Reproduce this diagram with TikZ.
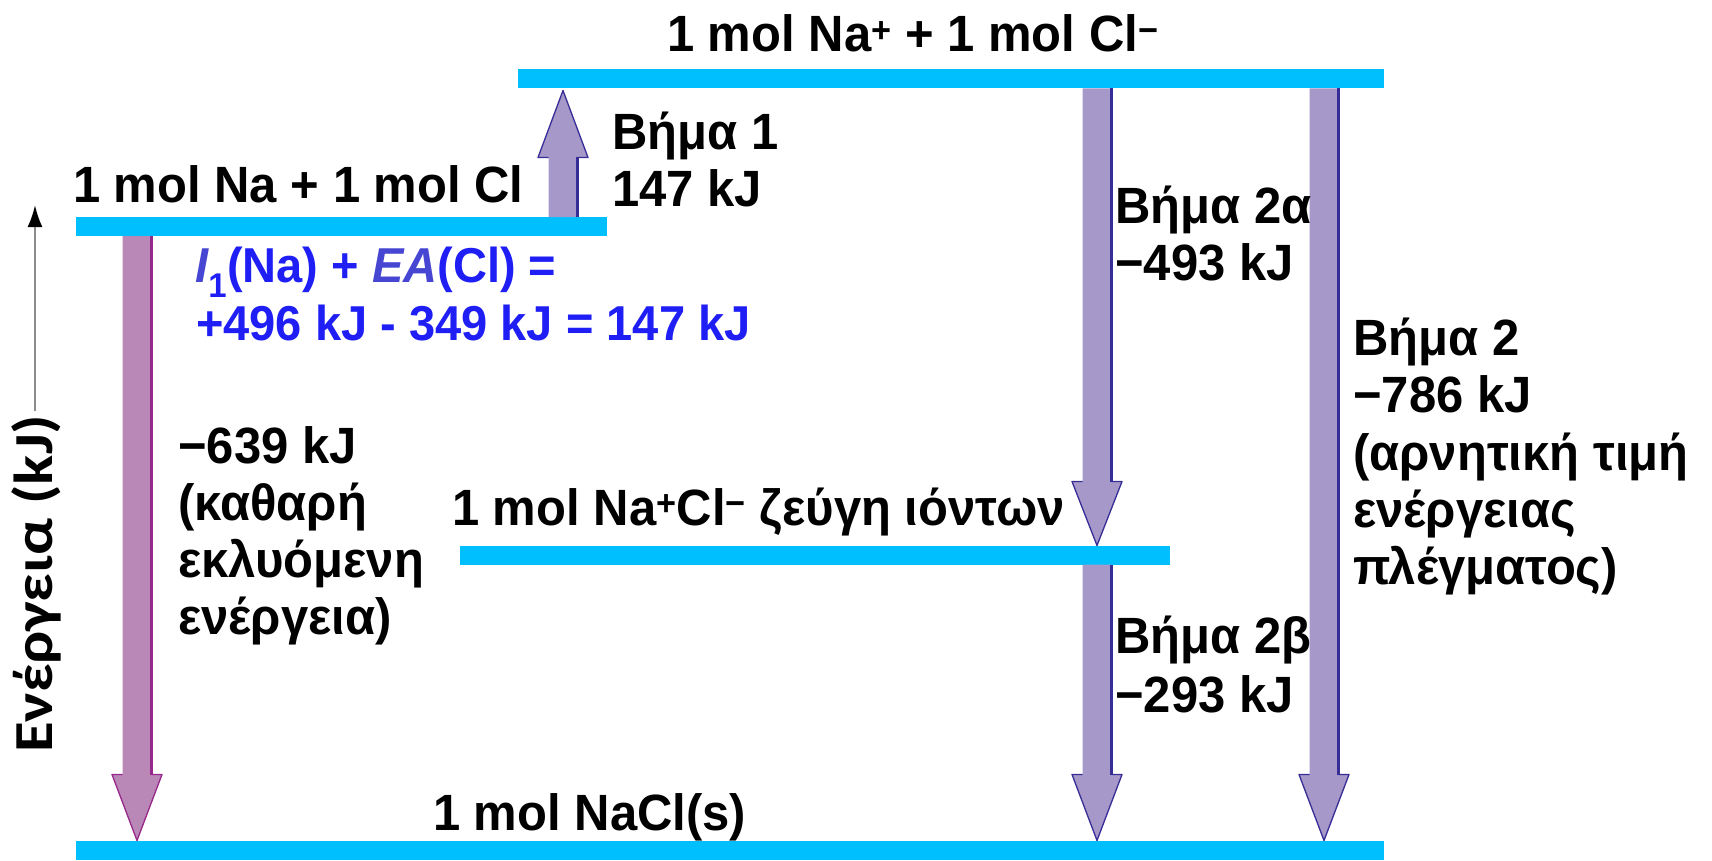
\documentclass[tikz,border=0pt]{standalone}
\usepackage{fontspec}
\setmainfont{Liberation Sans}[FakeStretch=0.96]
\newfontfamily\axisfont{Carlito}[FakeStretch=1.14]
\usetikzlibrary{arrows.meta}

\definecolor{levelblue}{RGB}{0,191,255}
\definecolor{stepfill}{RGB}{166,152,200}
\definecolor{stepedge}{RGB}{55,45,150}
\definecolor{netfill}{RGB}{186,136,182}
\definecolor{netedge}{RGB}{150,40,140}
\definecolor{calcblue}{RGB}{30,30,245}
\definecolor{calcital}{RGB}{70,70,210}
\definecolor{axisgray}{RGB}{140,140,140}

\tikzset{
  level/.style={fill=levelblue, minimum height=19pt, inner sep=0pt, outer sep=0pt},
  lab/.style={font=\fontsize{51}{60}\selectfont\bfseries, inner sep=0pt, anchor=base west},
  calcline/.style={font=\fontsize{49}{58}\selectfont\bfseries, text=calcblue, inner sep=0pt, anchor=base west},
}

% block arrow: #1 tail, #2 tip, #3 head length (signed, towards the tail), #4 fill, #5 edge
\newcommand\fatarrow[5]{%
  \fill[#4] ([xshift=-14.5pt]#1) -- ([xshift=14.5pt]#1)
    -- ([xshift=14.5pt,yshift=#3]#2) -- ([xshift=25pt,yshift=#3]#2) -- (#2)
    -- ([xshift=-25pt,yshift=#3]#2) -- ([xshift=-14.5pt,yshift=#3]#2) -- cycle;
  \draw[#5, line width=3pt] ([xshift=14.5pt]#1) -- ([xshift=14.5pt,yshift=#3]#2);
  \draw[#5, line width=1.3pt, line join=round]
    ([xshift=-14.5pt,yshift=#3]#2) -- ([xshift=-25pt,yshift=#3]#2) -- (#2)
    -- ([xshift=25pt,yshift=#3]#2) -- ([xshift=14.5pt,yshift=#3]#2);
}

\begin{document}
\begin{tikzpicture}[x=1pt,y=-1pt]
\useasboundingbox (0,0) rectangle (1712,861);

% energy levels
\node[level, minimum width=866pt]  (ions)  at (951,79)    {};
\node[level, minimum width=531pt]  (atoms) at (341.5,226.5) {};
\node[level, minimum width=710pt]  (pair)  at (815,555)   {};
\node[level, minimum width=1308pt] (solid) at (730,850)   {};

% arrow columns
\coordinate (c0) at (137,0);
\coordinate (c1) at (563,0);
\coordinate (c2) at (1097,0);
\coordinate (c3) at (1324,0);

\coordinate (s1t) at (c1 |- atoms.north);
\coordinate (s1h) at ([yshift=-2pt]c1 |- ions.south);
\coordinate (s2at) at (c2 |- ions.south);
\coordinate (s2ah) at (c2 |- pair.north);
\coordinate (s2bt) at (c2 |- pair.south);
\coordinate (s2bh) at (c2 |- solid.north);
\coordinate (s2t) at (c3 |- ions.south);
\coordinate (s2h) at (c3 |- solid.north);
\coordinate (nt) at (c0 |- atoms.south);
\coordinate (nh) at (c0 |- solid.north);

\fatarrow{s1t}{s1h}{-67pt}{stepfill}{stepedge}
\fatarrow{s2at}{s2ah}{64pt}{stepfill}{stepedge}
\fatarrow{s2bt}{s2bh}{66pt}{stepfill}{stepedge}
\fatarrow{s2t}{s2h}{66pt}{stepfill}{stepedge}
\fatarrow{nt}{nh}{66pt}{netfill}{netedge}

% energy axis
\coordinate (axlo) at (35,411);
\coordinate (axhi) at (35,205);
\draw[axisgray, line width=2.2pt, -{Latex[length=22pt,width=15pt,color=black]}] (axlo) -- (axhi);
\node[font=\axisfont\fontsize{55}{64}\selectfont\bfseries, rotate=90, anchor=base west, inner sep=0pt]
  (axlab) at (52,753) {Ενέργεια (kJ)};

% level labels
\node[lab] (lions)  at (667,52)  {1 mol Na\textsuperscript{+} + 1 mol Cl\textsuperscript{−}};
\node[lab] (latoms) at (73,202)  {1 mol Na + 1 mol Cl};
\node[lab] (lpair)  at (452,525) {1 mol Na\textsuperscript{+}Cl\textsuperscript{−} ζεύγη ιόντων};
\node[lab] (lsolid) at (433,830) {1 mol NaCl(s)};

% step 1
\node[lab] (st1a) at (612,150) {Βήμα 1};
\node[lab] (st1b) at (612,207) {147 kJ};

% ionisation + electron affinity
\node[calcline] (calc1) at (195,282) {{\color{calcital}\itshape I}\textsubscript{1}(Na) + {\color{calcital}\itshape EA}(Cl) =};
\node[calcline] (calc2) at (196,340) {+496 kJ - 349 kJ = 147 kJ};

% net change
\node[lab] (net1) at (178,463) {−639 kJ};
\node[lab] (net2) at (178,520) {(καθαρή};
\node[lab] (net3) at (178,577) {εκλυόμενη};
\node[lab] (net4) at (178,634) {ενέργεια)};

% step 2a
\node[lab] (s2a1) at (1115,223) {Βήμα 2α};
\node[lab] (s2a2) at (1115,280) {−493 kJ};

% step 2b
\node[lab] (s2b1) at (1115,653) {Βήμα 2β};
\node[lab] (s2b2) at (1115,712) {−293 kJ};

% step 2 (lattice energy)
\node[lab] (s21) at (1353,355) {Βήμα 2};
\node[lab] (s22) at (1353,412) {−786 kJ};
\node[lab] (s23) at (1353,470) {(αρνητική τιμή};
\node[lab] (s24) at (1353,527) {ενέργειας};
\node[lab] (s25) at (1353,584) {πλέγματος)};
\end{tikzpicture}
\end{document}
